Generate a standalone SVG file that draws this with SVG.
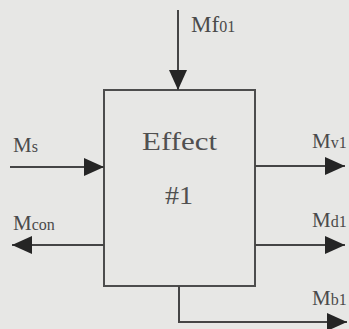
<svg xmlns="http://www.w3.org/2000/svg" width="349" height="329" viewBox="0 0 349 329">
  <defs>
    <marker id="arrow" markerUnits="userSpaceOnUse" markerWidth="20" markerHeight="18" refX="20" refY="9" orient="auto">
      <path d="M0,0 L20,9 L0,18 Z" fill="#252525"/>
    </marker>
  </defs>
  <style>
    .bg { fill: #e7e7e5; }
    .box { fill: none; stroke: #4d4d4d; stroke-width: 2; }
    .flow { fill: none; stroke: #454545; stroke-width: 2; marker-end: url(#arrow); }
    .title { font-family: "Liberation Serif", "Times New Roman", serif; font-size: 26px; fill: #505050; }
    .lbl { font-family: "Liberation Serif", "Times New Roman", serif; font-size: 21px; fill: #4a4a4a; }
    .sub { font-size: 16px; }
  </style>
  <rect class="bg" x="0" y="0" width="349" height="329"/>

  <!-- evaporator effect -->
  <g id="effect1">
    <rect class="box" x="104" y="90" width="151" height="196"/>
    <text class="title" x="142" y="150" textLength="75" lengthAdjust="spacingAndGlyphs">Effect</text>
    <text class="title" x="165" y="204" textLength="28" lengthAdjust="spacingAndGlyphs">#1</text>
  </g>

  <!-- mass flows in and out of the effect -->
  <g id="connectors">
    <line class="flow" x1="178" y1="10" x2="178" y2="90"/>
    <line class="flow" x1="10" y1="167" x2="104" y2="167"/>
    <line class="flow" x1="104" y1="245" x2="12" y2="245"/>
    <line class="flow" x1="255" y1="166" x2="345" y2="166"/>
    <line class="flow" x1="255" y1="245" x2="345" y2="245"/>
    <polyline class="flow" points="179,286 179,322 347,322"/>
  </g>

  <!-- stream labels -->
  <g id="labels">
    <text class="lbl" x="191" y="32" style="font-size:23px">Mf<tspan class="sub">01</tspan></text>
    <text class="lbl" x="13" y="152">M<tspan class="sub">s</tspan></text>
    <text class="lbl" x="13" y="230">M<tspan class="sub">con</tspan></text>
    <text class="lbl" x="312" y="148">M<tspan class="sub">v1</tspan></text>
    <text class="lbl" x="312" y="227">M<tspan class="sub">d1</tspan></text>
    <text class="lbl" x="312" y="305">M<tspan class="sub">b1</tspan></text>
  </g>
</svg>
